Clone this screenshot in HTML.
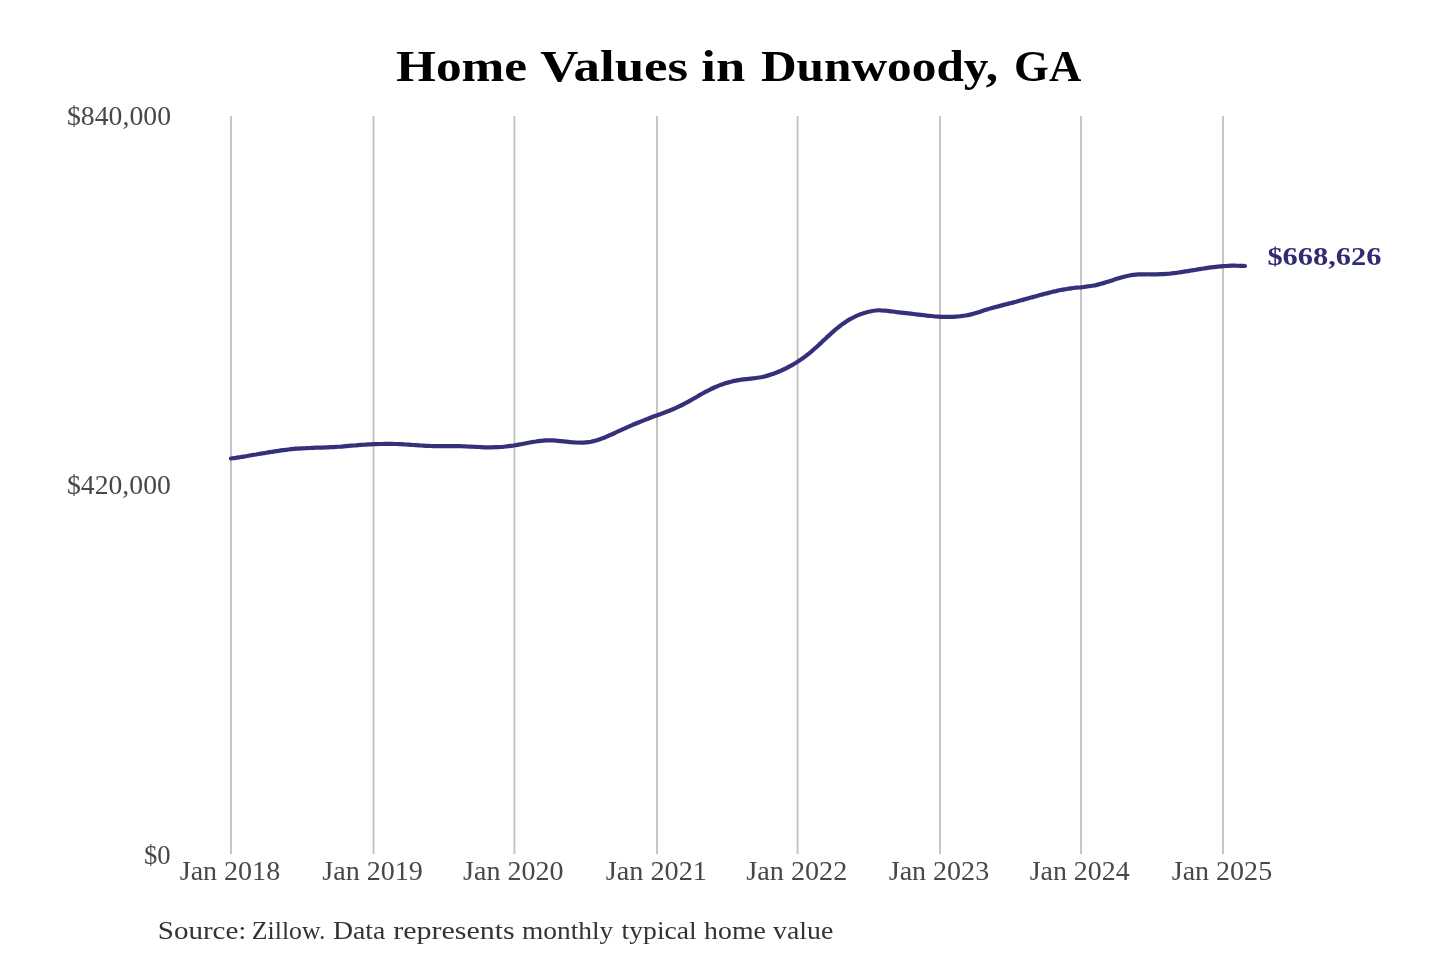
<!DOCTYPE html>
<html><head><meta charset="utf-8"><title>Home Values in Dunwoody, GA</title>
<style>
html,body{margin:0;padding:0;background:#fff;width:1440px;height:960px;overflow:hidden}
svg{display:block;will-change:transform}
text{font-family:"Liberation Serif",serif}
</style></head>
<body>
<svg width="1440" height="960" viewBox="0 0 1440 960">
<rect width="1440" height="960" fill="#fff"/>
<g stroke="#c0c0c0" stroke-width="1.8" fill="none">
<line x1="231.0" y1="116" x2="231.0" y2="854"/>
<line x1="373.5" y1="116" x2="373.5" y2="854"/>
<line x1="514.4" y1="116" x2="514.4" y2="854"/>
<line x1="657.0" y1="116" x2="657.0" y2="854"/>
<line x1="797.6" y1="116" x2="797.6" y2="854"/>
<line x1="940.0" y1="116" x2="940.0" y2="854"/>
<line x1="1081.0" y1="116" x2="1081.0" y2="854"/>
<line x1="1223.0" y1="116" x2="1223.0" y2="854"/>
</g>
<path d="M231.0 458.5C231.8 458.4 234.3 458.0 236.0 457.8C237.7 457.5 239.3 457.3 241.0 457.0C242.7 456.7 244.3 456.5 246.0 456.2C247.7 455.9 249.3 455.6 251.0 455.3C252.7 455.0 254.3 454.7 256.0 454.5C257.7 454.2 259.3 453.9 261.0 453.6C262.7 453.3 264.3 453.0 266.0 452.8C267.7 452.5 269.3 452.2 271.0 451.9C272.7 451.7 274.3 451.4 276.0 451.2C277.7 450.9 279.3 450.7 281.0 450.4C282.7 450.2 284.3 450.0 286.0 449.8C287.7 449.6 289.3 449.4 291.0 449.2C292.7 449.0 294.3 448.9 296.0 448.7C297.7 448.6 299.3 448.5 301.0 448.3C302.7 448.2 304.3 448.1 306.0 448.1C307.7 448.0 309.3 447.9 311.0 447.9C312.7 447.8 314.3 447.8 316.0 447.7C317.7 447.7 319.3 447.7 321.0 447.6C322.7 447.6 324.3 447.5 326.0 447.4C327.7 447.4 329.3 447.3 331.0 447.2C332.7 447.1 334.3 447.0 336.0 446.9C337.7 446.8 339.3 446.7 341.0 446.6C342.7 446.4 344.3 446.3 346.0 446.1C347.7 446.0 349.3 445.8 351.0 445.7C352.7 445.6 354.3 445.4 356.0 445.3C357.7 445.1 359.3 445.0 361.0 444.9C362.7 444.8 364.3 444.7 366.0 444.6C367.7 444.5 369.3 444.4 371.0 444.3C372.7 444.2 374.3 444.2 376.0 444.1C377.7 444.0 379.3 444.0 381.0 444.0C382.7 443.9 384.3 443.9 386.0 443.9C387.7 443.9 389.3 443.9 391.0 443.9C392.7 444.0 394.3 444.0 396.0 444.0C397.7 444.1 399.3 444.2 401.0 444.2C402.7 444.3 404.3 444.4 406.0 444.5C407.7 444.6 409.3 444.7 411.0 444.8C412.7 444.9 414.3 445.1 416.0 445.2C417.7 445.3 419.3 445.4 421.0 445.5C422.7 445.6 424.3 445.7 426.0 445.8C427.7 445.9 429.3 445.9 431.0 446.0C432.7 446.0 434.3 446.1 436.0 446.1C437.7 446.1 439.3 446.1 441.0 446.1C442.7 446.1 444.3 446.1 446.0 446.1C447.7 446.1 449.3 446.1 451.0 446.1C452.7 446.1 454.3 446.1 456.0 446.1C457.7 446.1 459.3 446.1 461.0 446.2C462.7 446.2 464.3 446.3 466.0 446.4C467.7 446.4 469.3 446.5 471.0 446.6C472.7 446.7 474.3 446.8 476.0 446.9C477.7 447.0 479.3 447.0 481.0 447.1C482.7 447.2 484.3 447.3 486.0 447.3C487.7 447.3 489.3 447.3 491.0 447.3C492.7 447.3 494.3 447.3 496.0 447.2C497.7 447.2 499.3 447.1 501.0 447.0C502.7 446.8 504.3 446.7 506.0 446.5C507.7 446.3 509.3 446.1 511.0 445.9C512.7 445.7 514.3 445.4 516.0 445.1C517.7 444.8 519.3 444.5 521.0 444.2C522.7 443.9 524.3 443.5 526.0 443.2C527.7 442.9 529.3 442.6 531.0 442.3C532.7 442.0 534.3 441.7 536.0 441.5C537.7 441.2 539.3 441.0 541.0 440.8C542.7 440.6 544.3 440.5 546.0 440.4C547.7 440.3 549.3 440.3 551.0 440.3C552.7 440.4 554.3 440.5 556.0 440.6C557.7 440.7 559.3 440.9 561.0 441.1C562.7 441.3 564.3 441.5 566.0 441.7C567.7 441.9 569.3 442.0 571.0 442.2C572.7 442.3 574.3 442.4 576.0 442.5C577.7 442.6 579.3 442.6 581.0 442.6C582.7 442.6 584.3 442.5 586.0 442.3C587.7 442.2 589.3 442.0 591.0 441.7C592.7 441.3 594.3 440.9 596.0 440.5C597.7 440.0 599.3 439.4 601.0 438.8C602.7 438.3 604.3 437.6 606.0 436.9C607.7 436.2 609.3 435.5 611.0 434.7C612.7 434.0 614.3 433.2 616.0 432.4C617.7 431.7 619.3 430.9 621.0 430.1C622.7 429.3 624.3 428.6 626.0 427.8C627.7 427.1 629.3 426.3 631.0 425.6C632.7 424.9 634.3 424.2 636.0 423.5C637.7 422.8 639.3 422.1 641.0 421.4C642.7 420.8 644.3 420.1 646.0 419.4C647.7 418.8 649.3 418.2 651.0 417.5C652.7 416.9 654.3 416.3 656.0 415.7C657.7 415.1 659.3 414.5 661.0 413.9C662.7 413.2 664.3 412.6 666.0 412.0C667.7 411.3 669.3 410.7 671.0 410.0C672.7 409.3 674.3 408.6 676.0 407.9C677.7 407.1 679.3 406.3 681.0 405.5C682.7 404.7 684.3 403.8 686.0 402.9C687.7 402.0 689.3 401.1 691.0 400.1C692.7 399.2 694.3 398.2 696.0 397.3C697.7 396.3 699.3 395.3 701.0 394.4C702.7 393.5 704.3 392.5 706.0 391.6C707.7 390.7 709.3 389.9 711.0 389.1C712.7 388.3 714.3 387.5 716.0 386.8C717.7 386.1 719.3 385.4 721.0 384.8C722.7 384.2 724.3 383.7 726.0 383.1C727.7 382.6 729.3 382.2 731.0 381.7C732.7 381.3 734.3 380.9 736.0 380.6C737.7 380.3 739.3 380.0 741.0 379.7C742.7 379.5 744.3 379.3 746.0 379.1C747.7 378.9 749.3 378.8 751.0 378.6C752.7 378.4 754.3 378.3 756.0 378.0C757.7 377.8 759.3 377.6 761.0 377.3C762.7 376.9 764.3 376.5 766.0 376.1C767.7 375.7 769.3 375.2 771.0 374.6C772.7 374.0 774.3 373.4 776.0 372.8C777.7 372.1 779.3 371.4 781.0 370.7C782.7 369.9 784.3 369.1 786.0 368.3C787.7 367.5 789.3 366.6 791.0 365.7C792.7 364.7 794.3 363.7 796.0 362.7C797.7 361.7 799.3 360.6 801.0 359.4C802.7 358.3 804.3 357.1 806.0 355.8C807.7 354.6 809.3 353.2 811.0 351.8C812.7 350.4 814.3 349.0 816.0 347.5C817.7 346.0 819.3 344.4 821.0 342.9C822.7 341.3 824.3 339.7 826.0 338.2C827.7 336.7 829.3 335.1 831.0 333.6C832.7 332.1 834.3 330.6 836.0 329.2C837.7 327.8 839.3 326.4 841.0 325.2C842.7 323.9 844.3 322.8 846.0 321.7C847.7 320.6 849.3 319.6 851.0 318.7C852.7 317.7 854.3 316.9 856.0 316.1C857.7 315.4 859.3 314.7 861.0 314.1C862.7 313.5 864.3 312.9 866.0 312.5C867.7 312.0 869.3 311.6 871.0 311.3C872.7 310.9 874.3 310.7 876.0 310.5C877.7 310.3 879.3 310.2 881.0 310.3C882.7 310.3 884.3 310.5 886.0 310.7C887.7 310.8 889.3 311.1 891.0 311.3C892.7 311.6 894.3 311.8 896.0 312.0C897.7 312.2 899.3 312.4 901.0 312.6C902.7 312.8 904.3 313.0 906.0 313.2C907.7 313.4 909.3 313.5 911.0 313.7C912.7 313.9 914.3 314.1 916.0 314.3C917.7 314.5 919.3 314.7 921.0 314.9C922.7 315.1 924.3 315.3 926.0 315.5C927.7 315.7 929.3 315.9 931.0 316.0C932.7 316.2 934.3 316.3 936.0 316.5C937.7 316.6 939.3 316.7 941.0 316.8C942.7 316.9 944.3 316.9 946.0 316.9C947.7 317.0 949.3 317.0 951.0 316.9C952.7 316.9 954.3 316.8 956.0 316.7C957.7 316.6 959.3 316.4 961.0 316.2C962.7 316.0 964.3 315.8 966.0 315.5C967.7 315.2 969.3 314.8 971.0 314.4C972.7 314.0 974.3 313.5 976.0 313.0C977.7 312.5 979.3 312.0 981.0 311.4C982.7 310.9 984.3 310.3 986.0 309.8C987.7 309.3 989.3 308.7 991.0 308.3C992.7 307.8 994.3 307.3 996.0 306.9C997.7 306.4 999.3 306.0 1001.0 305.6C1002.7 305.2 1004.3 304.8 1006.0 304.3C1007.7 303.9 1009.3 303.4 1011.0 303.0C1012.7 302.6 1014.3 302.1 1016.0 301.7C1017.7 301.2 1019.3 300.7 1021.0 300.3C1022.7 299.8 1024.3 299.4 1026.0 298.9C1027.7 298.5 1029.3 298.0 1031.0 297.5C1032.7 297.1 1034.3 296.6 1036.0 296.2C1037.7 295.7 1039.3 295.3 1041.0 294.8C1042.7 294.4 1044.3 293.9 1046.0 293.5C1047.7 293.1 1049.3 292.6 1051.0 292.2C1052.7 291.8 1054.3 291.4 1056.0 291.1C1057.7 290.7 1059.3 290.3 1061.0 290.0C1062.7 289.7 1064.3 289.3 1066.0 289.1C1067.7 288.8 1069.3 288.5 1071.0 288.3C1072.7 288.1 1074.3 287.9 1076.0 287.7C1077.7 287.6 1079.3 287.4 1081.0 287.3C1082.7 287.1 1084.3 286.9 1086.0 286.7C1087.7 286.5 1089.3 286.3 1091.0 286.0C1092.7 285.8 1094.3 285.4 1096.0 285.1C1097.7 284.7 1099.3 284.3 1101.0 283.8C1102.7 283.4 1104.3 282.9 1106.0 282.3C1107.7 281.8 1109.3 281.3 1111.0 280.7C1112.7 280.2 1114.3 279.6 1116.0 279.1C1117.7 278.6 1119.3 278.0 1121.0 277.6C1122.7 277.1 1124.3 276.6 1126.0 276.2C1127.7 275.8 1129.3 275.5 1131.0 275.2C1132.7 275.0 1134.3 274.8 1136.0 274.6C1137.7 274.5 1139.3 274.4 1141.0 274.3C1142.7 274.3 1144.3 274.3 1146.0 274.3C1147.7 274.2 1149.3 274.3 1151.0 274.3C1152.7 274.3 1154.3 274.3 1156.0 274.3C1157.7 274.3 1159.3 274.3 1161.0 274.2C1162.7 274.2 1164.3 274.1 1166.0 273.9C1167.7 273.8 1169.3 273.7 1171.0 273.5C1172.7 273.3 1174.3 273.1 1176.0 272.9C1177.7 272.6 1179.3 272.4 1181.0 272.1C1182.7 271.9 1184.3 271.6 1186.0 271.3C1187.7 271.1 1189.3 270.8 1191.0 270.5C1192.7 270.2 1194.3 270.0 1196.0 269.7C1197.7 269.4 1199.3 269.1 1201.0 268.9C1202.7 268.6 1204.3 268.4 1206.0 268.1C1207.7 267.9 1209.3 267.7 1211.0 267.4C1212.7 267.2 1214.3 267.0 1216.0 266.8C1217.7 266.7 1219.3 266.5 1221.0 266.3C1222.7 266.2 1224.3 266.1 1226.0 266.0C1227.7 265.9 1229.3 265.8 1231.0 265.7C1232.7 265.7 1234.3 265.6 1236.0 265.7C1237.7 265.7 1239.5 265.7 1241.0 265.8C1242.5 265.8 1244.3 266.0 1245.0 266.0" fill="none" stroke="#34307a" stroke-width="4.2" stroke-linecap="round" stroke-linejoin="round"/>
<g fill="#000" font-weight="bold" font-size="43.5">
<text x="396.02" y="81.30" textLength="131.13" lengthAdjust="spacingAndGlyphs">Home</text>
<text x="540.19" y="81.30" textLength="147.95" lengthAdjust="spacingAndGlyphs">Values</text>
<text x="701.29" y="81.30" textLength="43.85" lengthAdjust="spacingAndGlyphs">in</text>
<text x="760.95" y="81.30" textLength="237.21" lengthAdjust="spacingAndGlyphs">Dunwoody,</text>
<text x="1014.08" y="81.30" textLength="67.17" lengthAdjust="spacingAndGlyphs">GA</text>
</g>
<g fill="#484848" font-size="26.6">
<text x="67.00" y="124.75" textLength="104.03" lengthAdjust="spacingAndGlyphs">$840,000</text>
<text x="67.00" y="494.00" textLength="103.83" lengthAdjust="spacingAndGlyphs">$420,000</text>
<text x="143.95" y="863.90" textLength="26.65" lengthAdjust="spacingAndGlyphs">$0</text>
</g>
<g fill="#484848" font-size="26.5">
<text x="179.72" y="879.60" textLength="100.44" lengthAdjust="spacingAndGlyphs">Jan 2018</text>
<text x="322.22" y="879.60" textLength="100.71" lengthAdjust="spacingAndGlyphs">Jan 2019</text>
<text x="463.12" y="879.60" textLength="100.44" lengthAdjust="spacingAndGlyphs">Jan 2020</text>
<text x="605.72" y="879.60" textLength="101.25" lengthAdjust="spacingAndGlyphs">Jan 2021</text>
<text x="746.32" y="879.60" textLength="100.98" lengthAdjust="spacingAndGlyphs">Jan 2022</text>
<text x="888.72" y="879.60" textLength="100.44" lengthAdjust="spacingAndGlyphs">Jan 2023</text>
<text x="1029.72" y="879.60" textLength="99.90" lengthAdjust="spacingAndGlyphs">Jan 2024</text>
<text x="1171.72" y="879.60" textLength="100.44" lengthAdjust="spacingAndGlyphs">Jan 2025</text>
</g>
<g fill="#302c74" font-weight="bold" font-size="25.6">
<text x="1267.41" y="265.40" textLength="113.96" lengthAdjust="spacingAndGlyphs">$668,626</text>
</g>
<g fill="#333" font-size="26">
<text x="157.80" y="938.80" textLength="88.63" lengthAdjust="spacingAndGlyphs">Source:</text>
<text x="251.86" y="938.80" textLength="73.52" lengthAdjust="spacingAndGlyphs">Zillow.</text>
<text x="332.95" y="938.80" textLength="52.42" lengthAdjust="spacingAndGlyphs">Data</text>
<text x="393.17" y="938.80" textLength="121.62" lengthAdjust="spacingAndGlyphs">represents</text>
<text x="521.97" y="938.80" textLength="91.31" lengthAdjust="spacingAndGlyphs">monthly</text>
<text x="621.63" y="938.80" textLength="75.16" lengthAdjust="spacingAndGlyphs">typical</text>
<text x="704.13" y="938.80" textLength="61.68" lengthAdjust="spacingAndGlyphs">home</text>
<text x="773.10" y="938.80" textLength="60.17" lengthAdjust="spacingAndGlyphs">value</text>
</g>
</svg>
</body></html>
